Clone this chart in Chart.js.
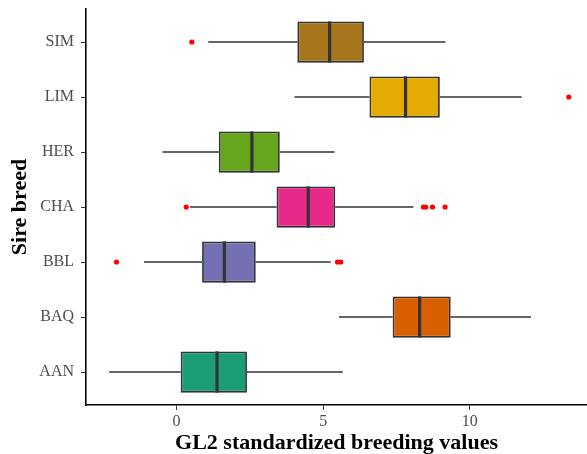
<!DOCTYPE html>
<html>
<head>
<meta charset="utf-8">
<script src="https://cdn.jsdelivr.net/npm/chart.js@4"></script>
<style>
  body { margin: 0; background: #fff; }
</style>
</head>
<body>
<canvas id="boxChart" width="587" height="454"></canvas>
<script>
// breeds, top to bottom
const breeds = ["SIM", "LIM", "HER", "CHA", "BBL", "BAQ", "AAN"]
const boxColors = ["#A6761D", "#E6AB02", "#66A61E", "#E7298A", "#7570B3", "#D95F02", "#1B9E77"]

// box stats
const whiskerLow  = [1.08, 4.02, -0.48, 0.46, -1.11, 5.54, -2.30]
const q1          = [4.12, 6.58, 1.44, 3.41, 0.87, 7.37, 0.14]
const median      = [5.22, 7.81, 2.57, 4.49, 1.63, 8.29, 1.38]
const q3          = [6.39, 8.98, 3.52, 5.41, 2.70, 9.35, 2.40]
const whiskerHigh = [9.17, 11.77, 5.39, 8.08, 5.26, 12.09, 5.67]

// outliers per breed
const outlierBreed = ["SIM", "LIM", "CHA", "CHA", "CHA", "CHA", "CHA", "BBL", "BBL", "BBL"]
const outlierValue = [0.52, 13.38, 0.33, 8.42, 8.50, 8.73, 9.16, -2.05, 5.49, 5.60]

const xTicks = [0, 5, 10]

const serif = "'Liberation Serif', 'Times New Roman', serif"

// whiskers + median lines, drawn with the chart scales
const boxLines = {
    id: "boxLines",
    beforeDatasetsDraw(chart) {
        const { ctx, scales: { x, y } } = chart
        ctx.save()
        ctx.strokeStyle = "#333333"
        ctx.lineWidth = 1.3
        breeds.forEach((b, i) => {
            const py = y.getPixelForValue(i)
            ctx.beginPath()
            ctx.moveTo(x.getPixelForValue(whiskerLow[i]), py)
            ctx.lineTo(x.getPixelForValue(q1[i]), py)
            ctx.moveTo(x.getPixelForValue(q3[i]), py)
            ctx.lineTo(x.getPixelForValue(whiskerHigh[i]), py)
            ctx.stroke()
        })
        ctx.restore()
    },
    afterDatasetsDraw(chart) {
        const { ctx, scales: { x, y } } = chart
        const bars = chart.getDatasetMeta(0).data
        ctx.save()
        ctx.strokeStyle = "#333333"
        ctx.lineWidth = 3.2
        breeds.forEach((b, i) => {
            const py = y.getPixelForValue(i)
            const h = bars[i].height
            const px = x.getPixelForValue(median[i])
            ctx.beginPath()
            ctx.moveTo(px, py - h / 2)
            ctx.lineTo(px, py + h / 2)
            ctx.stroke()
        })
        ctx.restore()
    }
}

new Chart(document.getElementById("boxChart"), {
    type: "bar",
    data: {
        datasets: [{
            label: "box",
            indexAxis: "y",
            data: breeds.map((b, i) => ({ y: i, x: [q1[i], q3[i]] })),
            backgroundColor: boxColors,
            borderColor: "#333333",
            borderWidth: 1.8,
            borderSkipped: false,
            barPercentage: 0.75,
            categoryPercentage: 1.0
        }, {
            type: "scatter",
            label: "outliers",
            data: outlierValue.map((v, i) => ({ x: v, y: breeds.indexOf(outlierBreed[i]) })),
            pointRadius: 2.6,
            pointBackgroundColor: "#FF0000",
            pointBorderWidth: 0
        }]
    },
    options: {
        responsive: false,
        animation: false,
        layout: { autoPadding: false, padding: { top: 9, right: 0, left: 0, bottom: 0 } },
        plugins: { legend: { display: false }, tooltip: { enabled: false } },
        scales: {
            x: {
                type: "linear",
                position: "bottom",
                offset: false,
                min: -3.09,
                max: 14.0,
                afterBuildTicks: (s) => { s.ticks = xTicks.map(v => ({ value: v })) },
                afterFit: (s) => { s.height = 49; s.paddingLeft = 0; s.paddingRight = 0 },
                grid: { offset: false, drawOnChartArea: false, drawTicks: true, tickLength: 5, color: "#333333", lineWidth: 1 },
                border: { display: true, color: "#000000", width: 1.6 },
                ticks: { color: "#4D4D4D", padding: 2, font: { family: serif, size: 16 } },
                title: {
                    display: true,
                    text: "GL2 standardized breeding values",
                    color: "#000000",
                    padding: { top: 0, bottom: -3 },
                    font: { family: serif, size: 22, weight: "bold" }
                }
            },
            y: {
                type: "linear",
                reverse: true,
                offset: false,
                min: -0.6,
                max: 6.6,
                afterBuildTicks: (s) => { s.ticks = breeds.map((b, i) => ({ value: i })) },
                afterFit: (s) => { s.width = 86; s.paddingTop = 0; s.paddingBottom = 0 },
                grid: { offset: false, drawOnChartArea: false, drawTicks: true, tickLength: 5, color: "#333333", lineWidth: 1 },
                border: { display: true, color: "#000000", width: 1.6 },
                ticks: {
                    autoSkip: false,
                    color: "#4D4D4D",
                    padding: 7,
                    font: { family: serif, size: 16 },
                    callback: (v) => breeds[v]
                },
                title: {
                    display: true,
                    text: "Sire breed",
                    color: "#000000",
                    padding: { top: 7, bottom: 0 },
                    font: { family: serif, size: 22, weight: "bold" }
                }
            }
        }
    },
    plugins: [boxLines]
})
</script>
</body>
</html>
